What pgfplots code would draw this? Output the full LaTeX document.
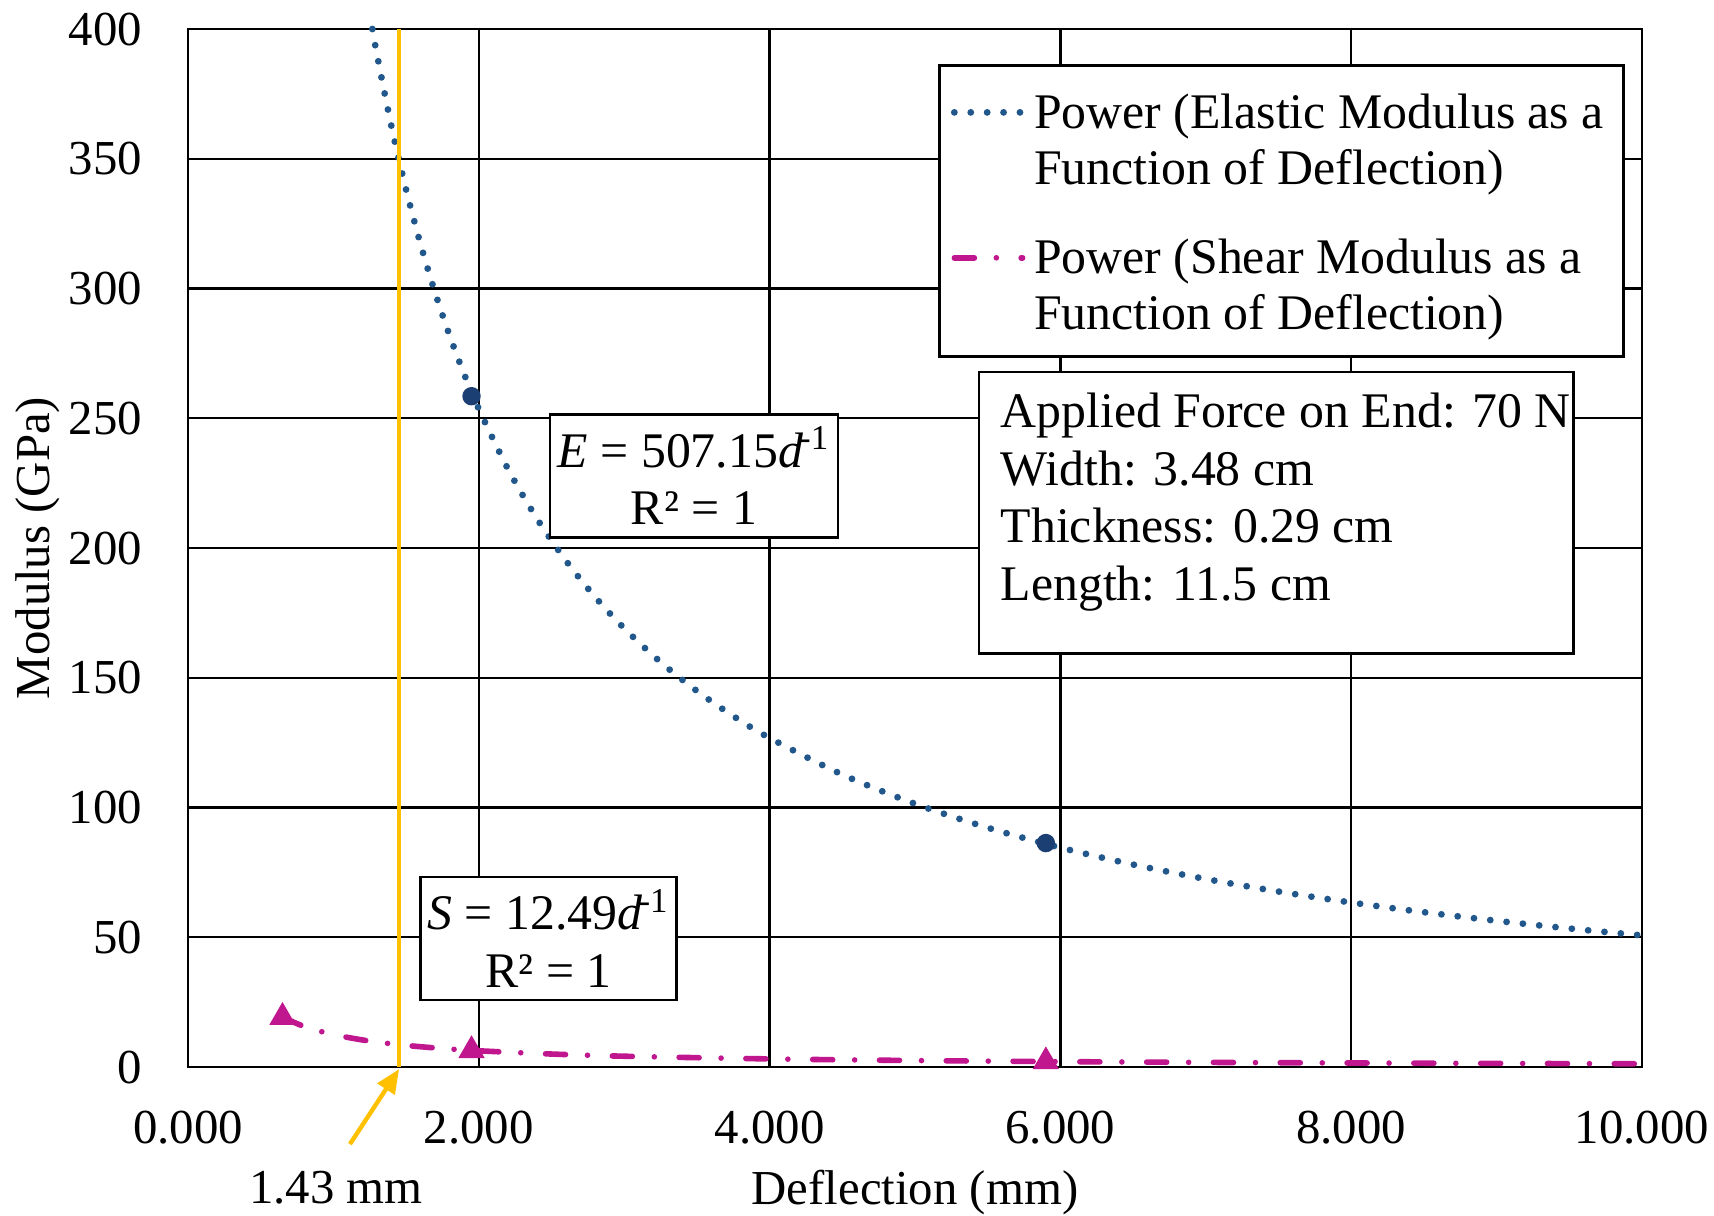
\documentclass[border=0pt]{standalone}
\usepackage{pgfplots}
\pgfplotsset{compat=1.18}
\usepackage{fontspec}
\setmainfont{Liberation Serif}
\usetikzlibrary{arrows.meta}
\definecolor{eblue}{HTML}{22578C}
\definecolor{emark}{HTML}{1B3F73}
\definecolor{smag}{HTML}{C0168E}
\definecolor{gold}{HTML}{FFC000}
\newcommand{\fs}{\fontsize{12.2pt}{14.3pt}\selectfont}
\newcommand{\fl}{\fontsize{12.45pt}{14.4pt}\selectfont}
\newcommand{\flg}{\fontsize{12.45pt}{14pt}\selectfont}
\newcommand{\lent}[2]{\vtop{\hbox{\rule{0pt}{10.6pt}#1}\hbox{#2}\vskip-1.2pt}}
\begin{document}
\begin{tikzpicture}
\begin{axis}[
  at={(0,0)}, anchor=south west,
  scale only axis, width=363.5pt, height=259.5pt,
  xmin=0, xmax=10, ymin=0, ymax=400,
  xtick={0,2,4,6,8,10}, ytick={0,50,...,400},
  major tick length=0pt,
  grid=major,
  major grid style={black, line width=0.6pt},
  axis line style={black, line width=0.7pt},
  font=\fs,
  /pgf/number format/assume math mode=true,
  xticklabel style={/pgf/number format/.cd, fixed, fixed zerofill, precision=3, /tikz/.cd, yshift=-7.5pt},
  yticklabel style={/pgf/number format/.cd, fixed, precision=0, /tikz/.cd, xshift=-8pt},
  xlabel={Deflection (mm)},
  ylabel={Modulus (GPa)},
  every axis x label/.style={at={(axis description cs:0.5,0)}, anchor=base, yshift=-34.3pt},
  every axis y label/.style={at={(axis description cs:-0.1035,0.5)}, rotate=90, anchor=center},
  clip=false,
  legend style={at={(axis description cs:0.5158,0.9665)}, anchor=north west, draw=black, line width=0.7pt, fill=white, font=\flg,
    cells={anchor=base west}, nodes={inner sep=2pt, text depth=}, row sep=6.3pt, inner xsep=2.9pt, inner ysep=3.2pt},
  every legend image post/.append style={yshift=4pt},
]
% Elastic modulus trendline E = 507.15 d^-1
\addplot[eblue, line width=1.7pt, line cap=round, dash pattern=on 0pt off 4.1pt, smooth] coordinates {
(1.268,400) (1.3,390.1) (1.4,362.25) (1.5,338.1) (1.6,316.97) (1.7,298.32) (1.8,281.75) (1.9,266.92)
(2.0,253.58) (2.2,230.52) (2.4,211.31) (2.6,195.06) (2.8,181.13) (3.0,169.05) (3.25,156.05) (3.5,144.9)
(3.75,135.24) (4.0,126.79) (4.5,112.7) (5.0,101.43) (5.5,92.21) (6.0,84.53) (6.5,78.02) (7.0,72.45)
(7.5,67.62) (8.0,63.39) (8.5,59.66) (9.0,56.35) (9.5,53.38) (10.0,50.72)};
\addlegendentry{\lent{Power (Elastic Modulus as a}{Function of Deflection)}}
% Shear modulus trendline S = 12.49 d^-1
\addplot[smag, line width=1.4pt, line cap=round, dash pattern=on 5pt off 5.5pt on 0pt off 6.2pt, smooth] coordinates {
(0.65,19.22) (0.8,15.61) (1.0,12.49) (1.25,9.99) (1.5,8.33) (1.75,7.14) (2.0,6.25) (2.5,5.0)
(3,4.16) (4,3.12) (5,2.50) (6,2.08) (7,1.78) (8,1.56) (9,1.39) (10,1.25)};
\addlegendentry{\lent{Power (Shear Modulus as a}{Function of Deflection)}}
% data points
\addplot[only marks, mark=*, mark size=2.1pt, emark, forget plot] coordinates {(1.95,258.5) (5.90,86.3)};
\addplot[only marks, mark=triangle*, mark size=3.4pt, smag, forget plot] coordinates {(0.65,19.2) (1.95,6.4) (5.90,2.1)};
% yellow marker line
\addplot[gold, line width=1.1pt, forget plot] coordinates {(1.45,0) (1.45,400)};
\draw[gold, line width=1.1pt, -{Triangle[length=6pt,width=5pt]}] (axis cs:1.114,-29.7) -- (axis cs:1.452,-0.8);
\node[anchor=base, yshift=-34.1pt] at (axis cs:1.018,0) {1.43 mm};
% annotation boxes
\draw[fill=white, line width=0.7pt] (axis cs:2.49,204.2) rectangle (axis cs:4.47,251.6);
\node[align=center, font=\fl] at (axis cs:3.48,227.9) {\textit{E} = 507.15\textit{d}\kern-1pt\textsuperscript{-1}\\R² = 1};
\draw[fill=white, line width=0.7pt] (axis cs:1.60,25.8) rectangle (axis cs:3.36,73.2);
\node[align=center, font=\fl] at (axis cs:2.48,49.5) {\textit{S} = 12.49\textit{d}\kern-1pt\textsuperscript{-1}\\R² = 1};
\draw[fill=white, line width=0.7pt] (axis cs:5.44,159.5) rectangle (axis cs:9.53,267.8);
\node[anchor=north west, align=left, inner xsep=5.25pt, inner ysep=5pt, font=\fl] at (axis cs:5.44,267.8) {Applied Force on End: 70 N\\Width: 3.48 cm\\Thickness: 0.29 cm\\Length: 11.5 cm};
\end{axis}
\pgfresetboundingbox
\useasboundingbox (-47pt,-37pt) rectangle (381.5pt,266.75pt);
\end{tikzpicture}
\end{document}
